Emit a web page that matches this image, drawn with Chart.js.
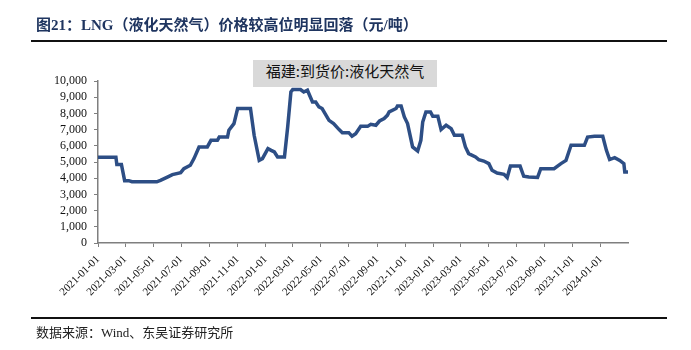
<!DOCTYPE html>
<html>
<head>
<meta charset="utf-8">
<script src="https://cdn.jsdelivr.net/npm/chart.js@4"></script>
<style>
  html, body { margin: 0; padding: 0; background: #fff; }
  #wrap { position: relative; width: 691px; height: 350px; overflow: hidden; }
  #chart { position: absolute; left: 0; top: 0; }
  .title {
    position: absolute; left: 36px; top: 13px;
    font: bold 15px "Liberation Serif", "Noto Sans CJK SC", serif;
    color: #1f3560; white-space: nowrap;
  }
  .rule { position: absolute; left: 31px; width: 636px; height: 2px; background: #111; }
  .legend-box {
    position: absolute; left: 253px; top: 60px; width: 184px; height: 27px;
    background: #d9d9d9; text-align: center; line-height: 27px;
    font: 15px "Noto Sans CJK SC", sans-serif; color: #111; white-space: nowrap;
  }
  .source {
    position: absolute; left: 36px; top: 322px;
    font: 13px "Liberation Serif", "Noto Sans CJK SC", serif; color: #222;
  }
</style>
</head>
<body>
<div id="wrap">
  <canvas id="chart" width="691" height="350"></canvas>
  <div class="title">图21：LNG（液化天然气）价格较高位明显回落（元/吨）</div>
  <div class="rule" style="top:40px"></div>
  <div class="legend-box">福建:到货价:液化天然气</div>
  <div class="rule" style="top:317px"></div>
  <div class="source">数据来源：Wind、东吴证券研究所</div>
</div>
<script>
// 福建 LNG 到货价（元/吨）
const priceDates = [
  '2021-01-01', '2021-02-09', '2021-02-11', '2021-02-21', '2021-02-28', '2021-03-09',
  '2021-03-16', '2021-05-09', '2021-05-17', '2021-06-01', '2021-06-12', '2021-06-30',
  '2021-07-07', '2021-07-21', '2021-07-29', '2021-08-09', '2021-08-27', '2021-09-04',
  '2021-09-18', '2021-09-22', '2021-10-10', '2021-10-13', '2021-10-24', '2021-11-01',
  '2021-11-29', '2021-12-07', '2021-12-18', '2021-12-25', '2022-01-06', '2022-01-13',
  '2022-01-20', '2022-01-27', '2022-02-11', '2022-02-18', '2022-02-25', '2022-03-01',
  '2022-03-18', '2022-03-25', '2022-04-02', '2022-04-13', '2022-04-20', '2022-04-27',
  '2022-05-04', '2022-05-19', '2022-05-29', '2022-06-10', '2022-06-17', '2022-07-01',
  '2022-07-08', '2022-07-16', '2022-07-27', '2022-08-11', '2022-08-18', '2022-08-29',
  '2022-09-06', '2022-09-16', '2022-09-23', '2022-09-27', '2022-10-12', '2022-10-15',
  '2022-10-23', '2022-10-30', '2022-11-06', '2022-11-17', '2022-11-28', '2022-12-05',
  '2022-12-09', '2022-12-16', '2022-12-26', '2022-12-31', '2023-01-11', '2023-01-18',
  '2023-01-29', '2023-02-09', '2023-02-16', '2023-03-05', '2023-03-12', '2023-03-19',
  '2023-04-03', '2023-04-10', '2023-04-21', '2023-05-02', '2023-05-09', '2023-05-20',
  '2023-06-04', '2023-06-11', '2023-06-18', '2023-07-09', '2023-07-17', '2023-07-28',
  '2023-08-16', '2023-08-23', '2023-09-21', '2023-10-06', '2023-10-17', '2023-10-28',
  '2023-11-26', '2023-12-03', '2023-12-18', '2024-01-05', '2024-01-13', '2024-01-20',
  '2024-01-31', '2024-02-11', '2024-02-20', '2024-02-22', '2024-02-29'
];
const priceValues = [
  5300, 5300, 4850, 4850, 3850, 3850,
  3780, 3780, 3870, 4070, 4220, 4340,
  4590, 4800, 5210, 5930, 5930, 6340,
  6340, 6540, 6540, 6960, 7370, 8300,
  8300, 6650, 5100, 5210, 5830, 5720,
  5620, 5310, 5310, 7160, 9320, 9470,
  9470, 9320, 9430, 8700, 8700, 8400,
  8300, 7570, 7370, 7000, 6810, 6810,
  6590, 6750, 7200, 7200, 7330, 7270,
  7530, 7680, 7880, 8090, 8300, 8460,
  8460, 7780, 7370, 5930, 5680, 6340,
  7470, 8090, 8090, 7820, 7820, 7000,
  7270, 7060, 6650, 6650, 5930, 5520,
  5310, 5150, 5060, 4900, 4490, 4320,
  4240, 4040, 4750, 4750, 4120, 4070,
  4040, 4590, 4590, 4900, 5100, 6030,
  6030, 6540, 6590, 6590, 5720, 5150,
  5270, 5100, 4900, 4380, 4380
];
// 横轴刻度：每两个月一个
const tickLabels = [
  '2021-01-01', '2021-03-01', '2021-05-01', '2021-07-01', '2021-09-01', '2021-11-01',
  '2022-01-01', '2022-03-01', '2022-05-01', '2022-07-01', '2022-09-01', '2022-11-01',
  '2023-01-01', '2023-03-01', '2023-05-01', '2023-07-01', '2023-09-01', '2023-11-01',
  '2024-01-01'
];
const yTicks = [0, 1000, 2000, 3000, 4000, 5000, 6000, 7000, 8000, 9000, 10000];

const toTime = s => Date.parse(s + 'T00:00:00Z');
const labelByTime = new Map(tickLabels.map(s => [toTime(s), s]));

const serif = '"Liberation Serif", "Times New Roman", serif';
const axisColor = '#7f7f7f';

new Chart(document.getElementById('chart'), {
  type: 'line',
  data: {
    datasets: [{
      label: '福建:到货价:液化天然气',
      data: priceDates.map((d, i) => ({ x: toTime(d), y: priceValues[i] })),
      borderColor: '#2d4e85',
      borderWidth: 3.5,
      pointRadius: 0,
      tension: 0,
      fill: false
    }]
  },
  options: {
    responsive: false,
    animation: false,
    layout: { padding: { top: 81, right: 63, bottom: 40, left: 0 } },
    plugins: { legend: { display: false }, tooltip: { enabled: false } },
    scales: {
      x: {
        type: 'linear',
        min: toTime('2021-01-01'),
        max: toTime('2024-02-29'),
        afterBuildTicks: axis => {
          axis.ticks = tickLabels.map(s => ({ value: toTime(s) }));
        },
        afterFit: axis => { axis.height = 67; },
        ticks: {
          autoSkip: false,
          minRotation: 45,
          maxRotation: 45,
          padding: 6,
          color: '#111',
          font: { family: serif, size: 11 },
          callback: v => labelByTime.get(v) || ''
        },
        grid: { drawOnChartArea: false, drawTicks: true, tickLength: 4, color: axisColor, lineWidth: 1 },
        border: { display: true, color: axisColor, width: 1.5 }
      },
      y: {
        min: 0,
        max: 10000,
        afterBuildTicks: axis => {
          axis.ticks = yTicks.map(v => ({ value: v }));
        },
        afterFit: axis => { axis.width = 98; },
        ticks: {
          autoSkip: false,
          color: '#111',
          padding: 7,
          font: { family: serif, size: 12 },
          callback: v => v.toLocaleString('en-US')
        },
        grid: { drawOnChartArea: false, drawTicks: true, tickLength: 4, color: axisColor, lineWidth: 1 },
        border: { display: true, color: axisColor, width: 1.5 }
      }
    }
  }
});
</script>
</body>
</html>
